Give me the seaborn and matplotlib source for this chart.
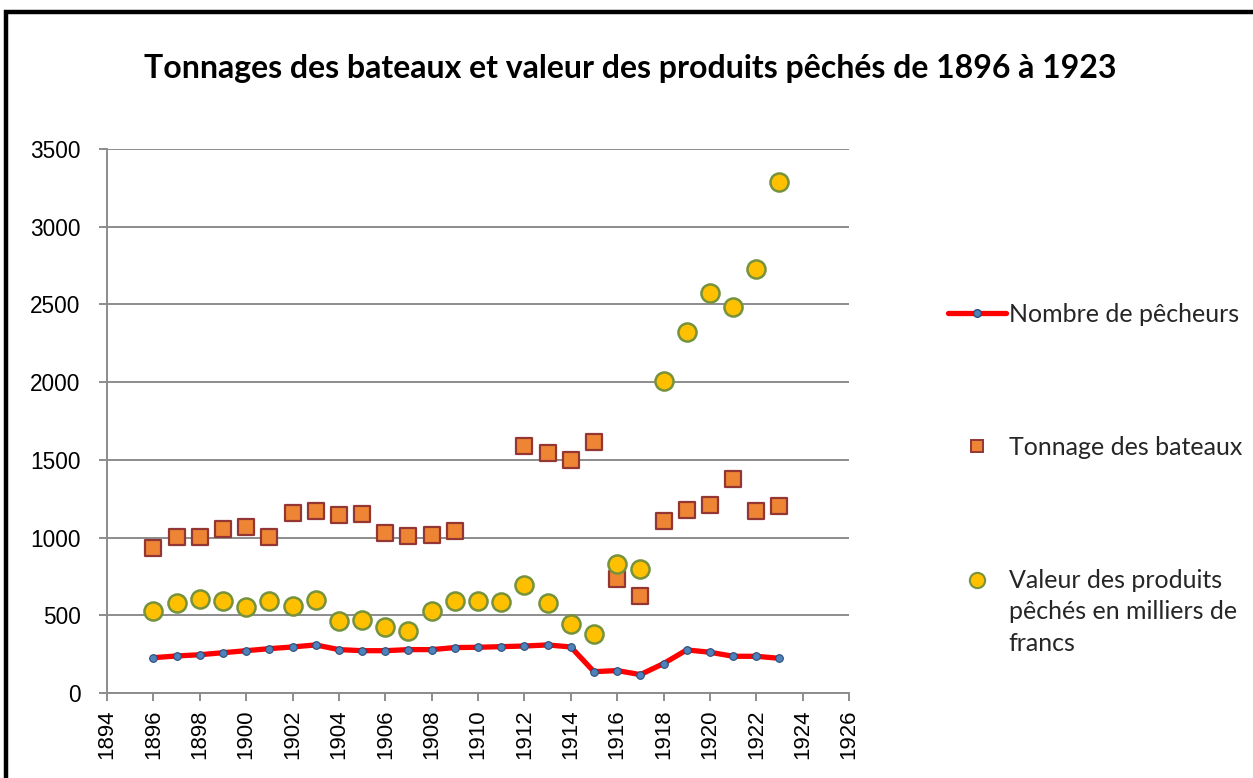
import numpy as np
import pandas as pd
import matplotlib
matplotlib.use("Agg")
import matplotlib.pyplot as plt
from matplotlib import font_manager
from matplotlib.lines import Line2D
from matplotlib.patches import Rectangle
from matplotlib.offsetbox import HPacker
import seaborn as sns

# --- data ---------------------------------------------------------------
years = list(range(1896, 1924))

pecheurs = [227, 238, 246, 259, 272, 285, 296, 309, 279, 272,
            272, 279, 279, 292, 294, 298, 302, 309, 296, 137,
            144, 118, 189, 277, 262, 236, 236, 223]

tonnage = [933, 1006, 1006, 1055, 1066, 1006, 1160, 1171, 1145, 1150,
           1031, 1010, 1017, 1042, np.nan, np.nan, 1589, 1542, 1499, 1615,
           732, 624, 1105, 1178, 1208, 1379, 1169, 1203]

valeur = [530, 581, 607, 592, 551, 590, 562, 598, 465, 470,
          427, 401, 530, 594, 592, 586, 693, 577, 444, 378,
          830, 798, 2010, 2325, 2572, 2486, 2725, 3286]

labels = ["Nombre de pêcheurs",
          "Tonnage des bateaux",
          "Valeur des produits\npêchés en milliers de\nfrancs"]
title = "Tonnages des bateaux et valeur des produits pêchés de 1896 à 1923"
x_ticks = list(range(1894, 1927, 2))
y_ticks = list(range(0, 3501, 500))

df = pd.DataFrame({"annee": years, "pecheurs": pecheurs,
                   "tonnage": tonnage, "valeur": valeur})

# --- style --------------------------------------------------------------
sns.set_theme(style="white")
available = {f.name for f in font_manager.fontManager.ttflist}
body_font = "Lato" if "Lato" in available else "DejaVu Sans"
tick_font = "Liberation Sans" if "Liberation Sans" in available else body_font
plt.rcParams["font.family"] = [body_font, "DejaVu Sans"]

grid_col = "#8c8c8c"
fig = plt.figure(figsize=(12.53, 7.78), dpi=100)
ax = fig.add_axes([0.0854, 0.1093, 0.5922, 0.6992])

# fishermen line
sns.lineplot(data=df, x="annee", y="pecheurs", ax=ax, color="#ff0000",
             linewidth=3.8, marker="o", markersize=5.5,
             markerfacecolor="#4f81bd", markeredgecolor="#2c4d75",
             markeredgewidth=0.8, zorder=3)

# boat tonnage squares
sns.scatterplot(data=df, x="annee", y="tonnage", ax=ax, marker="s", s=120,
                color="#ee8535", edgecolor="#943634", linewidth=1.6, zorder=4)

# catch value spheres
sns.scatterplot(data=df, x="annee", y="valeur", ax=ax, marker="o", s=170,
                color="#ffc000", edgecolor="#76923c", linewidth=1.8, zorder=5)

ax.set_xlim(1894, 1926)
ax.set_ylim(0, 3500)
ax.set_xticks(x_ticks)
ax.set_yticks(y_ticks)
ax.set_xticklabels([str(t) for t in x_ticks], rotation=90, fontsize=16,
                   family=tick_font)
ax.set_yticklabels([str(t) for t in y_ticks], fontsize=16.3,
                   family=tick_font)
ax.set_xlabel("")
ax.set_ylabel("")

ax.grid(axis="y", color=grid_col, linewidth=1.4)
ax.grid(axis="x", visible=False)
ax.set_axisbelow(True)
for side in ("top", "right"):
    ax.spines[side].set_visible(False)
for side in ("left", "bottom"):
    ax.spines[side].set_color(grid_col)
    ax.spines[side].set_linewidth(1.4)
ax.tick_params(axis="both", which="both", direction="out", length=6,
               width=1.4, color=grid_col, labelcolor="black",
               left=True, bottom=True)
ax.tick_params(axis="y", pad=13)
ax.tick_params(axis="x", pad=6)

# title
fig.text(0.503, 0.912, title, ha="center", va="center",
         fontsize=23, fontweight="bold", color="black")

# legend
handles = [
    Line2D([], [], color="#ff0000", linewidth=3.8, marker="o", markersize=5.5,
           markerfacecolor="#4f81bd", markeredgecolor="#2c4d75"),
    Line2D([], [], linestyle="none", marker="s", markersize=9,
           markerfacecolor="#ee8535", markeredgecolor="#943634",
           markeredgewidth=1.4),
    Line2D([], [], linestyle="none", marker="o", markersize=11,
           markerfacecolor="#ffc000", markeredgecolor="#76923c",
           markeredgewidth=1.5),
]
leg = fig.legend(handles, labels, loc="upper left",
                 bbox_to_anchor=(0.7566, 0.611), frameon=False, fontsize=18,
                 labelspacing=4.3, handlelength=2.3, handleheight=1.2,
                 handletextpad=0.12, borderaxespad=0, borderpad=0)
for txt in leg.get_texts():
    txt.set_linespacing(1.45)
# keep each key level with the first line of its label
for column in leg._legend_handle_box.get_children():
    for row in column.get_children():
        if isinstance(row, HPacker):
            row.align = "top"

# black frame around the chart area
fig.add_artist(Rectangle((0.005, -0.05), 1.2, 1.035, transform=fig.transFigure,
                         fill=False, edgecolor="black", linewidth=3.2))

fig.savefig("out.png", dpi=100, facecolor="white")
